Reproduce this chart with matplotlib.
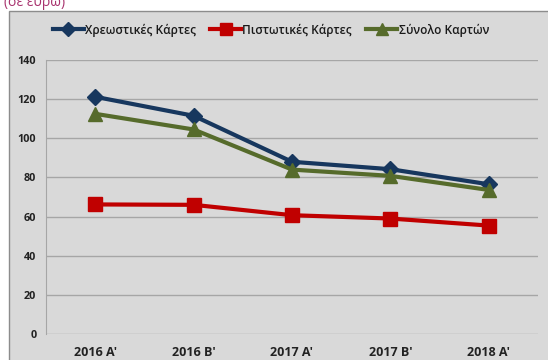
import matplotlib
matplotlib.use("Agg")
import matplotlib.pyplot as plt
from matplotlib.patches import Rectangle

categories = ["2016 A'", "2016 B'", "2017 A'", "2017 B'", "2018 A'"]
debit_cards = [121.2, 111.5, 88.0, 84.2, 76.5]
credit_cards = [66.2, 66.0, 60.7, 59.0, 55.4]
total_cards = [112.5, 104.5, 84.0, 80.8, 73.6]
series_names = ["Χρεωστικές Κάρτες", "Πιστωτικές Κάρτες", "Σύνολο Καρτών"]
y_ticks = [0, 20, 40, 60, 80, 100, 120, 140]

W, H = 548, 360
fig = plt.figure(figsize=(W / 100, H / 100), dpi=100)
fig.patch.set_facecolor("white")

# chart area box drawn on a background axes
bg = fig.add_axes([0, 0, 1, 1], zorder=0)
bg.set_xlim(0, W)
bg.set_ylim(H, 0)
bg.axis("off")
bg.add_patch(Rectangle((8.5, 10.5), W + 10, H, facecolor="#d9d9d9",
                       edgecolor="#8c8c8c", linewidth=1.0))
bg.text(4, 6, "(σε ευρώ)", color="#a8336e", fontsize=10,
        family="Open Sans", va="baseline", ha="left")

ax = fig.add_axes([46 / W, 1 - 334 / H, (538 - 46) / W, (334 - 60) / H],
                  zorder=1)
ax.set_facecolor("#d9d9d9")

x = list(range(len(categories)))
ax.plot(x, debit_cards, color="#17375e", lw=3, marker="D", ms=8.5,
        label=series_names[0], zorder=4)
ax.plot(x, credit_cards, color="#c00000", lw=3, marker="s", ms=10,
        label=series_names[1], zorder=3)
ax.plot(x, total_cards, color="#566b2b", lw=3, marker="^", ms=10,
        label=series_names[2], zorder=5)

ax.set_xlim(-0.5, len(categories) - 0.5)
ax.set_ylim(0, 140)
ax.set_yticks(y_ticks)
ax.set_xticks(x)
ax.set_xticklabels(categories)
ax.grid(axis="y", color="#a6a6a6", lw=1)
ax.set_axisbelow(True)
for s in ["top", "right", "bottom"]:
    ax.spines[s].set_visible(False)
ax.spines["left"].set_color("#a6a6a6")
ax.tick_params(length=0)
ax.tick_params(axis="y", pad=7)
ax.tick_params(axis="x", pad=9)
for lab in ax.get_yticklabels():
    lab.set_family("Open Sans")
    lab.set_fontweight("bold")
    lab.set_fontsize(7.8)
    lab.set_color("#222222")
for lab in ax.get_xticklabels():
    lab.set_family("Open Sans")
    lab.set_fontweight("bold")
    lab.set_fontsize(9)
    lab.set_color("#222222")

leg = fig.legend(loc="center", bbox_to_anchor=(0.494, 1 - 30 / H), ncol=3,
                 frameon=False, handlelength=2.6, handletextpad=0.1,
                 columnspacing=1.2, markerscale=0.8,
                 prop={"family": "Open Sans", "weight": "semibold", "size": 8.6})
for t in leg.get_texts():
    t.set_color("#1a1a1a")

fig.savefig("out.png", dpi=100)
